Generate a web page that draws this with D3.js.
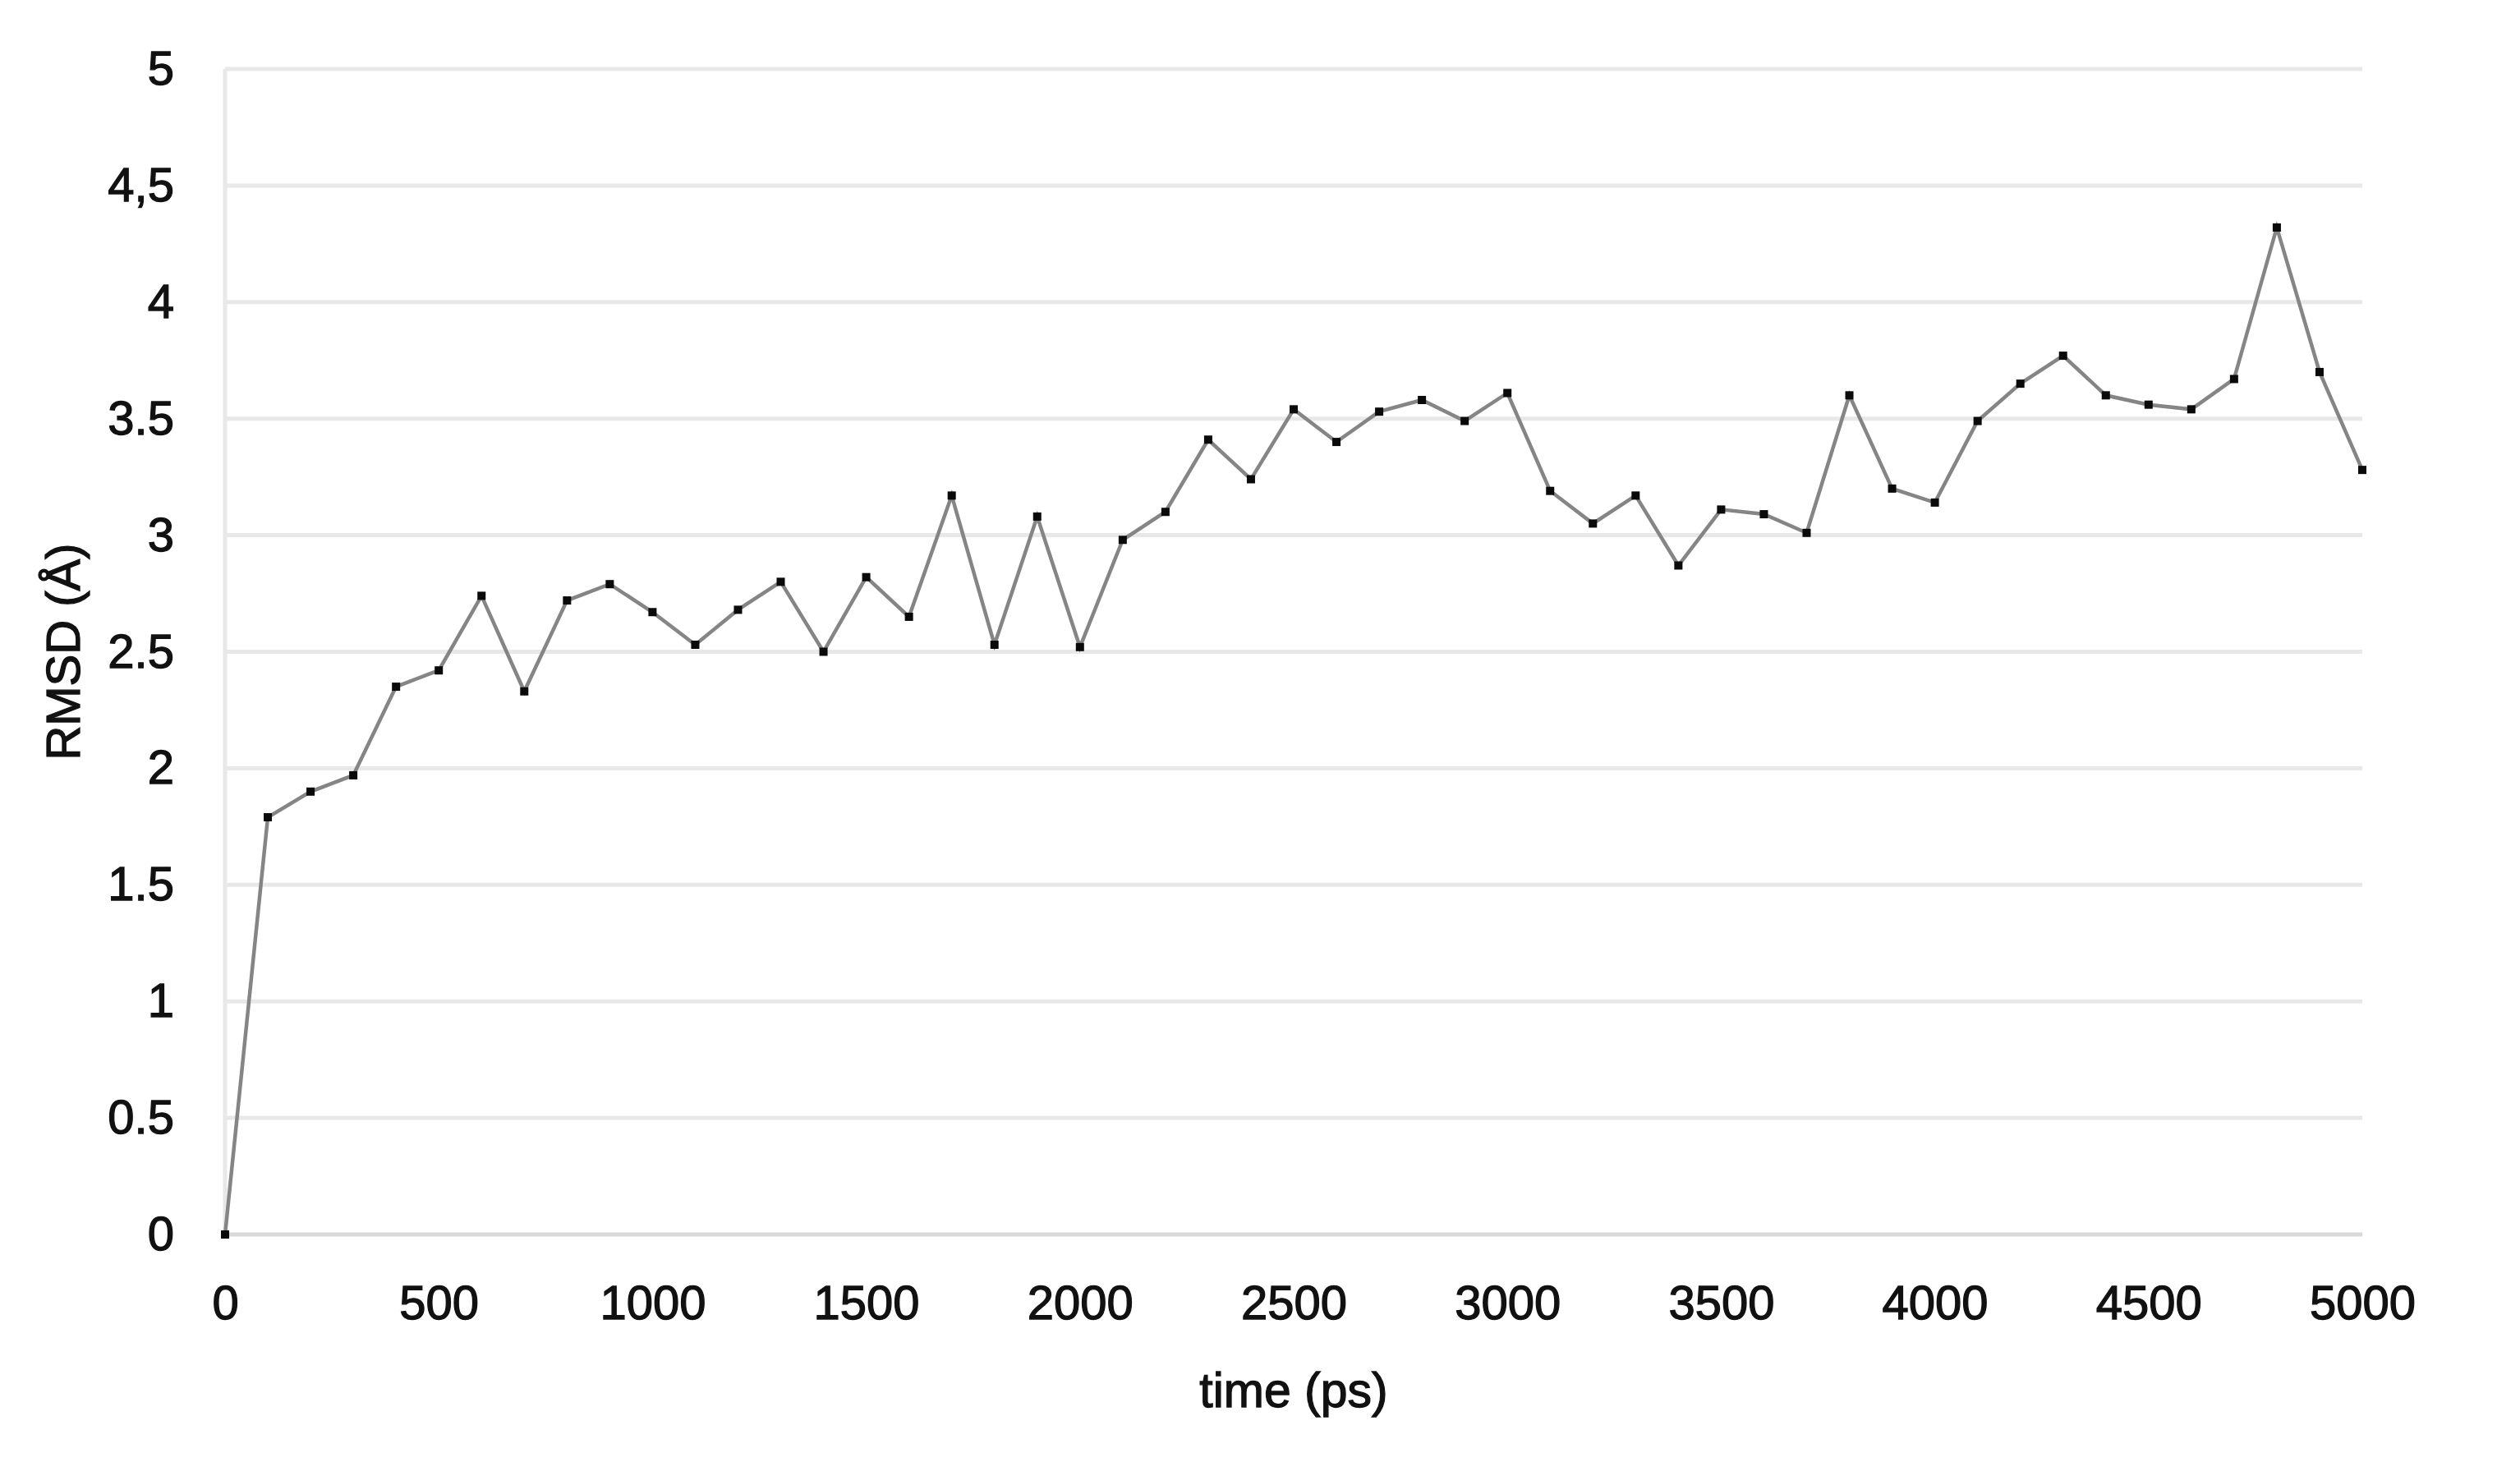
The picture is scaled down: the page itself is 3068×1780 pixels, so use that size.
<!DOCTYPE html>
<html>
<head>
<meta charset="utf-8">
<script src="https://cdn.jsdelivr.net/npm/d3@7"></script>
<style>
  html, body { margin: 0; padding: 0; background: #fff; }
  svg text { font-family: "Liberation Sans", Arial, sans-serif; fill: #111; stroke: #111; stroke-width: 1.3px; }
</style>
</head>
<body>
<svg id="chart"></svg>
<script>
const times = [0, 100, 200, 300, 400, 500, 600, 700, 800, 900,
  1000, 1100, 1200, 1300, 1400, 1500, 1600, 1700, 1800, 1900,
  2000, 2100, 2200, 2300, 2400, 2500, 2600, 2700, 2800, 2900,
  3000, 3100, 3200, 3300, 3400, 3500, 3600, 3700, 3800, 3900,
  4000, 4100, 4200, 4300, 4400, 4500, 4600, 4700, 4800, 4900, 5000];
const rmsd = [0, 1.79, 1.90, 1.97, 2.35, 2.42, 2.74, 2.33, 2.72, 2.79,
  2.67, 2.53, 2.68, 2.80, 2.50, 2.82, 2.65, 3.17, 2.53, 3.08,
  2.52, 2.98, 3.10, 3.41, 3.24, 3.54, 3.40, 3.53, 3.58, 3.49,
  3.61, 3.19, 3.05, 3.17, 2.87, 3.11, 3.09, 3.01, 3.60, 3.20,
  3.14, 3.49, 3.65, 3.77, 3.60, 3.56, 3.54, 3.67, 4.32, 3.70, 3.28];
const xTicks = [0, 500, 1000, 1500, 2000, 2500, 3000, 3500, 4000, 4500, 5000];
const yTicks = [0, 0.5, 1, 1.5, 2, 2.5, 3, 3.5, 4, 4.5, 5];
const yTickLabels = ["0", "0.5", "1", "1.5", "2", "2.5", "3", "3.5", "4", "4,5", "5"];

const width = 3068, height = 1780;
const margin = {top: 84, right: 192, bottom: 277, left: 274};

const svg = d3.select("#chart")
  .attr("width", width)
  .attr("height", height);

const x = d3.scaleLinear().domain([0, 5000]).range([margin.left, width - margin.right]);
const y = d3.scaleLinear().domain([0, 5]).range([height - margin.bottom, margin.top]);

// grid
svg.append("g")
  .selectAll("line")
  .data(yTicks)
  .join("line")
  .attr("x1", margin.left)
  .attr("x2", width - margin.right)
  .attr("y1", d => y(d))
  .attr("y2", d => y(d))
  .attr("stroke", d => d === 0 ? "#d9d9d9" : "#e8e8e8")
  .attr("stroke-width", 5);

svg.append("line")
  .attr("x1", margin.left)
  .attr("x2", margin.left)
  .attr("y1", y(5))
  .attr("y2", y(0))
  .attr("stroke", "#e8e8e8")
  .attr("stroke-width", 5);

// axes
const yAxis = svg.append("g")
  .attr("transform", `translate(${margin.left},0)`)
  .call(d3.axisLeft(y).tickValues(yTicks).tickSize(0).tickPadding(62)
    .tickFormat((d, i) => yTickLabels[i]));
yAxis.select(".domain").remove();
yAxis.selectAll("text")
  .attr("font-size", 58)
  .style("font-family", "Liberation Sans, Arial, sans-serif");

const xAxis = svg.append("g")
  .attr("transform", `translate(0,${height - margin.bottom})`)
  .call(d3.axisBottom(x).tickValues(xTicks).tickSize(0).tickPadding(62)
    .tickFormat(d3.format("d")));
xAxis.select(".domain").remove();
xAxis.selectAll("text")
  .attr("font-size", 58)
  .style("font-family", "Liberation Sans, Arial, sans-serif");

// titles
svg.append("text")
  .attr("x", (margin.left + width - margin.right) / 2)
  .attr("y", 1713)
  .attr("text-anchor", "middle")
  .attr("font-size", 59)
  .text("time (ps)");

svg.append("text")
  .attr("transform", `translate(97,${(y(0) + y(5)) / 2}) rotate(-90)`)
  .attr("text-anchor", "middle")
  .attr("font-size", 58)
  .text("RMSD (Å)");

// series
const line = d3.line()
  .x((d, i) => x(times[i]))
  .y(d => y(d));

svg.append("path")
  .datum(rmsd)
  .attr("fill", "none")
  .attr("stroke", "#858585")
  .attr("stroke-width", 4.5)
  .attr("d", line);

svg.append("g")
  .selectAll("rect")
  .data(rmsd)
  .join("rect")
  .attr("x", (d, i) => x(times[i]) - 5)
  .attr("y", d => y(d) - 5)
  .attr("width", 10)
  .attr("height", 10)
  .attr("fill", "#0a0a0a");
</script>
</body>
</html>
